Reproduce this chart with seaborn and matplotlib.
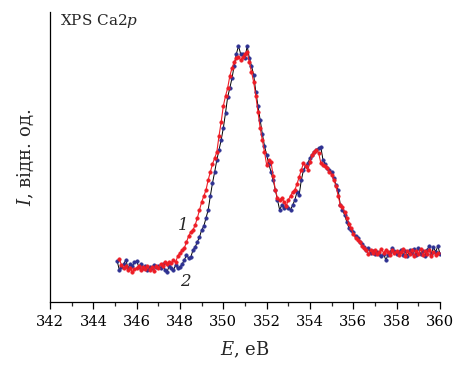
import numpy as np
import pandas as pd
import matplotlib
matplotlib.use("Agg")
import matplotlib.pyplot as plt
import seaborn as sns
from matplotlib.ticker import MultipleLocator

# ---- data (intensity in arbitrary units, step 0.1 eV) ----
e_start_2 = 345.1
intensity_2 = [39, 30, 33, 36, 40, 32, 36, 34, 38, 39,
               33, 36, 32, 34, 30, 33, 32, 35, 33, 34,
               32, 36, 30, 28, 34, 32, 30, 35, 32, 33,
               36, 40, 45, 42, 43, 50, 53, 58, 63, 70,
               74, 82, 90, 104, 117, 128, 140, 150, 160, 172,
               187, 203, 212, 222, 234, 246, 254, 246, 246, 242,
               254, 242, 234, 225, 208, 194, 180, 166, 154, 145,
               136, 128, 120, 110, 100, 90, 95, 92, 94, 92,
               90, 95, 100, 108, 105, 120, 130, 134, 137, 142,
               145, 148, 150, 152, 153, 140, 136, 132, 130, 128,
               122, 115, 110, 95, 90, 85, 78, 72, 70, 68,
               64, 62, 58, 56, 53, 50, 52, 47, 49, 46,
               48, 46, 44, 46, 40, 45, 48, 52, 49, 46,
               48, 50, 45, 49, 44, 50, 47, 51, 45, 52,
               46, 49, 44, 50, 54, 46, 53, 48, 54, 46]

e_start_1 = 345.2
intensity_1 = [41, 35, 32, 34, 30, 32, 28, 31, 32, 34,
               30, 33, 31, 34, 30, 33, 29, 34, 32, 36,
               34, 38, 36, 38, 37, 40, 38, 44, 47, 50,
               52, 58, 64, 68, 70, 75, 82, 90, 98, 104,
               110, 120, 128, 136, 142, 148, 164, 178, 194, 204,
               212, 224, 232, 238, 242, 243, 240, 243, 246, 248,
               238, 228, 218, 204, 188, 172, 160, 148, 135, 140,
               138, 124, 110, 102, 100, 102, 98, 94, 100, 104,
               108, 110, 116, 123, 130, 137, 134, 130, 138, 145,
               148, 150, 147, 137, 135, 134, 132, 128, 125, 120,
               114, 104, 95, 93, 88, 82, 76, 72, 66, 62,
               60, 58, 54, 52, 50, 46, 50, 47, 50, 46,
               48, 51, 47, 50, 48, 45, 50, 47, 49, 45,
               48, 51, 44, 49, 46, 50, 44, 49, 46, 51,
               45, 49, 46, 50, 44, 48, 45, 47]

energy_2 = np.round(e_start_2 + 0.1 * np.arange(len(intensity_2)), 1)
energy_1 = np.round(e_start_1 + 0.1 * np.arange(len(intensity_1)), 1)

df1 = pd.DataFrame({"E": energy_1, "I": intensity_1})
df2 = pd.DataFrame({"E": energy_2, "I": intensity_2})

x_ticks = [342, 344, 346, 348, 350, 352, 354, 356, 358, 360]

sns.set_theme(style="ticks")
plt.rcParams["font.family"] = ["DejaVu Serif"]
plt.rcParams["mathtext.fontset"] = "dejavuserif"

fig = plt.figure(figsize=(4.53, 3.65), dpi=100)
ax = fig.add_axes([50/453, (365-302)/365, 390/453, 290/365])

blue = "#2e3192"
red = "#ee1c25"
sns.lineplot(data=df2, x="E", y="I", ax=ax, color="black", linewidth=0.7,
             marker="o", markersize=2.6, markerfacecolor=blue,
             markeredgecolor=blue, markeredgewidth=0.3)
sns.lineplot(data=df1, x="E", y="I", ax=ax, color=red, linewidth=0.8,
             marker="o", markersize=2.6, markerfacecolor=red,
             markeredgecolor=red, markeredgewidth=0.3)

ax.set_xlim(342, 360)
ax.set_ylim(-2, 288)
ax.set_xticks(x_ticks)
ax.set_xticklabels([str(t) for t in x_ticks], fontsize=10.5)
ax.xaxis.set_minor_locator(MultipleLocator(1))
ax.tick_params(axis="x", which="major", direction="out", length=5, width=0.9, colors="black", pad=4)
ax.tick_params(axis="x", which="minor", direction="out", length=3, width=0.9)
ax.set_yticks([])
for s in ["top", "right"]:
    ax.spines[s].set_visible(False)
for s in ["left", "bottom"]:
    ax.spines[s].set_linewidth(0.9)
    ax.spines[s].set_color("black")

ax.set_xlabel(r"$E$, еВ", fontsize=13, labelpad=8)
ax.set_ylabel(r"$I$, відн. од.", fontsize=13, labelpad=10)

ax.text(0.026, 0.97, r"XPS Ca2$p$", transform=ax.transAxes, fontsize=11,
        ha="left", va="center")
ax.text(348.15, 74, "1", fontsize=12, style="italic", ha="center", va="center")
ax.text(348.25, 19, "2", fontsize=12, style="italic", ha="center", va="center")

fig.savefig("out.png", dpi=100)
